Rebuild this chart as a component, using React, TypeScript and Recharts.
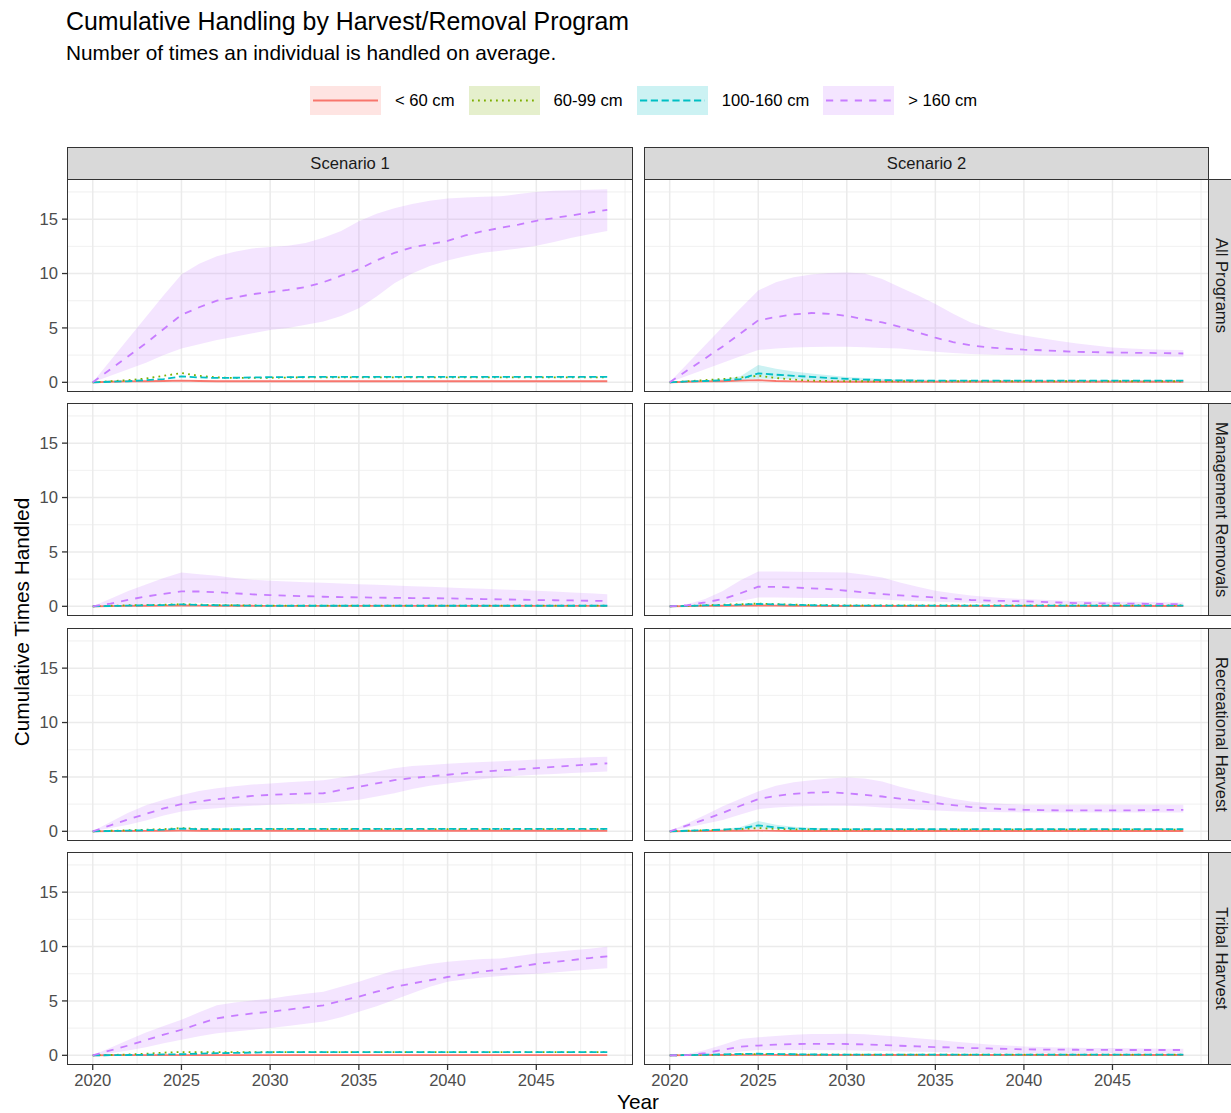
import React from "react";
import { ComposedChart, Line, Area, XAxis, YAxis, CartesianGrid } from "recharts";

const years = [2020, 2021, 2022, 2023, 2024, 2025, 2026, 2027, 2028, 2029, 2030, 2031, 2032, 2033, 2034, 2035, 2036, 2037, 2038, 2039, 2040, 2041, 2042, 2043, 2044, 2045, 2046, 2047, 2048, 2049];
const xTicks = [2020, 2025, 2030, 2035, 2040, 2045];
const xMinor = [2022.5, 2027.5, 2032.5, 2037.5, 2042.5, 2047.5, 2050];
const yTicks = [0, 5, 10, 15];
const yMinor = [2.5, 7.5, 12.5, 17.5];
const scenarios = ["Scenario 1", "Scenario 2"];
const programs = ["All Programs", "Management Removals", "Recreational Harvest", "Tribal Harvest"];
const sizeClasses = ["< 60 cm", "60-99 cm", "100-160 cm", "> 160 cm"];

// Scenario 1 — All Programs
const s1AllLt60 = [0, 0.05, 0.08, 0.1, 0.12, 0.15, 0.12, 0.1, 0.1, 0.1, 0.1, 0.1, 0.1, 0.1, 0.1, 0.1, 0.1, 0.1, 0.1, 0.1, 0.1, 0.1, 0.1, 0.1, 0.1, 0.1, 0.1, 0.1, 0.1, 0.1];
const s1All6099 = [0, 0.1, 0.2, 0.35, 0.6, 0.85, 0.6, 0.45, 0.4, 0.4, 0.42, 0.44, 0.45, 0.45, 0.46, 0.46, 0.46, 0.46, 0.46, 0.46, 0.46, 0.46, 0.46, 0.46, 0.46, 0.46, 0.46, 0.46, 0.46, 0.46];
const s1All100160 = [0, 0.05, 0.1, 0.2, 0.3, 0.55, 0.45, 0.4, 0.42, 0.45, 0.47, 0.48, 0.49, 0.5, 0.5, 0.5, 0.5, 0.5, 0.5, 0.5, 0.5, 0.5, 0.5, 0.5, 0.5, 0.5, 0.5, 0.5, 0.5, 0.5];
const s1AllGt160 = [0, 1.2, 2.4, 3.6, 4.9, 6.2, 6.9, 7.5, 7.8, 8.1, 8.3, 8.5, 8.75, 9.2, 9.8, 10.4, 11.2, 11.9, 12.4, 12.7, 13.0, 13.5, 13.9, 14.2, 14.5, 14.85, 15.1, 15.35, 15.6, 15.85];
const s1AllGt160Lo = [0, 0.6, 1.2, 1.8, 2.5, 3.1, 3.5, 3.9, 4.2, 4.5, 4.8, 5.0, 5.3, 5.6, 6.1, 6.8, 7.9, 9.1, 10.0, 10.7, 11.2, 11.6, 11.9, 12.1, 12.3, 12.55, 12.9, 13.3, 13.6, 13.9];
const s1AllGt160Hi = [0, 2.0, 4.0, 6.0, 8.0, 9.9, 10.9, 11.6, 12.0, 12.3, 12.45, 12.55, 12.8, 13.3, 13.9, 14.8, 15.5, 16.0, 16.4, 16.7, 16.9, 17.0, 17.05, 17.1, 17.3, 17.5, 17.6, 17.65, 17.7, 17.75];

// Scenario 2 — All Programs
const s2AllLt60 = [0, 0.05, 0.08, 0.1, 0.15, 0.2, 0.12, 0.08, 0.06, 0.05, 0.05, 0.05, 0.05, 0.05, 0.05, 0.05, 0.05, 0.05, 0.05, 0.05, 0.05, 0.05, 0.05, 0.05, 0.05, 0.05, 0.05, 0.05, 0.05, 0.05];
const s2All6099 = [0, 0.1, 0.2, 0.3, 0.45, 0.6, 0.4, 0.25, 0.15, 0.12, 0.1, 0.1, 0.1, 0.1, 0.1, 0.1, 0.1, 0.1, 0.1, 0.1, 0.1, 0.1, 0.1, 0.1, 0.1, 0.1, 0.1, 0.1, 0.1, 0.1];
const s2All100160 = [0, 0.08, 0.12, 0.18, 0.3, 0.82, 0.7, 0.6, 0.5, 0.4, 0.32, 0.25, 0.2, 0.18, 0.16, 0.15, 0.15, 0.15, 0.15, 0.15, 0.15, 0.15, 0.15, 0.15, 0.15, 0.15, 0.15, 0.15, 0.15, 0.15];
const s2All100160Lo = [0, 0.04, 0.06, 0.1, 0.15, 0.35, 0.3, 0.25, 0.2, 0.16, 0.13, 0.11, 0.1, 0.09, 0.08, 0.08, 0.08, 0.08, 0.08, 0.08, 0.08, 0.08, 0.08, 0.08, 0.08, 0.08, 0.08, 0.08, 0.08, 0.08];
const s2All100160Hi = [0, 0.12, 0.2, 0.3, 0.55, 1.6, 1.25, 1.0, 0.8, 0.65, 0.5, 0.4, 0.32, 0.28, 0.25, 0.22, 0.22, 0.22, 0.22, 0.22, 0.22, 0.22, 0.22, 0.22, 0.22, 0.22, 0.22, 0.22, 0.22, 0.22];
const s2AllGt160 = [0, 1.1, 2.2, 3.3, 4.5, 5.7, 6.0, 6.25, 6.37, 6.3, 6.1, 5.8, 5.5, 5.1, 4.6, 4.1, 3.7, 3.4, 3.2, 3.1, 3.0, 2.95, 2.87, 2.8, 2.77, 2.74, 2.72, 2.7, 2.68, 2.65];
const s2AllGt160Lo = [0, 0.6, 1.2, 1.8, 2.4, 2.96, 3.1, 3.2, 3.25, 3.26, 3.26, 3.22, 3.15, 3.1, 2.95, 2.8, 2.7, 2.6, 2.55, 2.5, 2.5, 2.47, 2.45, 2.43, 2.42, 2.4, 2.38, 2.37, 2.36, 2.35];
const s2AllGt160Hi = [0, 1.7, 3.4, 5.1, 6.8, 8.45, 9.2, 9.66, 9.9, 10.05, 10.1, 10.0, 9.5, 8.75, 8.0, 7.2, 6.3, 5.5, 5.0, 4.6, 4.3, 4.05, 3.8, 3.57, 3.38, 3.2, 3.1, 3.05, 3.0, 2.96];

// Scenario 1 — Management Removals
const s1MgmtLt60 = [0, 0.02, 0.04, 0.05, 0.06, 0.08, 0.06, 0.05, 0.05, 0.05, 0.04, 0.04, 0.04, 0.04, 0.04, 0.04, 0.04, 0.04, 0.04, 0.04, 0.04, 0.04, 0.04, 0.04, 0.04, 0.04, 0.04, 0.04, 0.04, 0.04];
const s1Mgmt6099 = [0, 0.05, 0.1, 0.12, 0.15, 0.2, 0.15, 0.12, 0.1, 0.08, 0.06, 0.06, 0.06, 0.06, 0.06, 0.06, 0.06, 0.06, 0.06, 0.06, 0.06, 0.06, 0.06, 0.06, 0.06, 0.06, 0.06, 0.06, 0.06, 0.06];
const s1Mgmt100160 = [0, 0.03, 0.06, 0.1, 0.12, 0.18, 0.12, 0.1, 0.08, 0.06, 0.05, 0.05, 0.05, 0.05, 0.05, 0.05, 0.05, 0.05, 0.05, 0.05, 0.05, 0.05, 0.05, 0.05, 0.05, 0.05, 0.05, 0.05, 0.05, 0.05];
const s1MgmtGt160 = [0, 0.25, 0.6, 0.9, 1.15, 1.37, 1.36, 1.3, 1.2, 1.1, 1.03, 0.98, 0.93, 0.88, 0.85, 0.82, 0.8, 0.78, 0.76, 0.75, 0.73, 0.7, 0.67, 0.64, 0.61, 0.58, 0.56, 0.54, 0.51, 0.49];
const s1MgmtGt160Lo = [0, 0.02, 0.1, 0.2, 0.28, 0.36, 0.32, 0.28, 0.25, 0.22, 0.2, 0.18, 0.17, 0.16, 0.15, 0.14, 0.13, 0.12, 0.12, 0.11, 0.1, 0.1, 0.1, 0.1, 0.1, 0.1, 0.1, 0.1, 0.1, 0.1];
const s1MgmtGt160Hi = [0, 0.7, 1.4, 2.0, 2.6, 3.1, 2.95, 2.8, 2.6, 2.45, 2.34, 2.28, 2.22, 2.16, 2.1, 2.04, 1.98, 1.92, 1.85, 1.79, 1.73, 1.67, 1.61, 1.55, 1.49, 1.43, 1.36, 1.28, 1.2, 1.12];

// Scenario 2 — Management Removals
const s2MgmtLt60 = [0, 0.02, 0.04, 0.05, 0.06, 0.08, 0.06, 0.05, 0.04, 0.03, 0.03, 0.03, 0.03, 0.03, 0.03, 0.03, 0.03, 0.03, 0.03, 0.03, 0.03, 0.03, 0.03, 0.03, 0.03, 0.03, 0.03, 0.03, 0.03, 0.03];
const s2Mgmt6099 = [0, 0.05, 0.1, 0.15, 0.2, 0.25, 0.2, 0.15, 0.12, 0.1, 0.08, 0.08, 0.08, 0.08, 0.08, 0.08, 0.08, 0.08, 0.08, 0.08, 0.08, 0.08, 0.08, 0.08, 0.08, 0.08, 0.08, 0.08, 0.08, 0.08];
const s2Mgmt100160 = [0, 0.04, 0.08, 0.1, 0.15, 0.22, 0.18, 0.14, 0.1, 0.08, 0.06, 0.06, 0.06, 0.06, 0.06, 0.06, 0.06, 0.06, 0.06, 0.06, 0.06, 0.06, 0.06, 0.06, 0.06, 0.06, 0.06, 0.06, 0.06, 0.06];
const s2MgmtGt160 = [0, 0.1, 0.36, 0.67, 1.2, 1.8, 1.78, 1.73, 1.65, 1.58, 1.43, 1.28, 1.12, 1.0, 0.9, 0.82, 0.7, 0.58, 0.52, 0.49, 0.46, 0.4, 0.35, 0.3, 0.28, 0.27, 0.25, 0.23, 0.21, 0.2];
const s2MgmtGt160Lo = [0, 0.02, 0.1, 0.25, 0.5, 0.82, 0.8, 0.78, 0.77, 0.76, 0.76, 0.7, 0.62, 0.54, 0.48, 0.43, 0.38, 0.32, 0.27, 0.23, 0.2, 0.19, 0.18, 0.17, 0.16, 0.16, 0.15, 0.15, 0.15, 0.15];
const s2MgmtGt160Hi = [0, 0.2, 0.67, 1.4, 2.4, 3.2, 3.2, 3.18, 3.16, 3.13, 3.1, 2.9, 2.64, 2.2, 1.8, 1.43, 1.2, 1.0, 0.85, 0.75, 0.67, 0.6, 0.54, 0.49, 0.46, 0.43, 0.41, 0.39, 0.37, 0.36];

// Scenario 1 — Recreational Harvest
const s1RecLt60 = [0, 0.02, 0.03, 0.04, 0.05, 0.06, 0.05, 0.05, 0.05, 0.05, 0.05, 0.05, 0.05, 0.05, 0.05, 0.05, 0.05, 0.05, 0.05, 0.05, 0.05, 0.05, 0.05, 0.05, 0.05, 0.05, 0.05, 0.05, 0.05, 0.05];
const s1Rec6099 = [0, 0.05, 0.1, 0.15, 0.2, 0.3, 0.22, 0.2, 0.2, 0.2, 0.2, 0.2, 0.2, 0.2, 0.2, 0.2, 0.2, 0.2, 0.2, 0.2, 0.2, 0.2, 0.2, 0.2, 0.2, 0.2, 0.2, 0.2, 0.2, 0.2];
const s1Rec100160 = [0, 0.03, 0.06, 0.1, 0.15, 0.25, 0.2, 0.2, 0.2, 0.22, 0.23, 0.23, 0.23, 0.23, 0.23, 0.23, 0.23, 0.23, 0.23, 0.23, 0.23, 0.23, 0.23, 0.23, 0.23, 0.23, 0.23, 0.23, 0.23, 0.23];
const s1RecGt160 = [0, 0.55, 1.1, 1.6, 2.1, 2.5, 2.75, 2.96, 3.1, 3.25, 3.35, 3.42, 3.47, 3.5, 3.8, 4.1, 4.4, 4.7, 4.9, 5.05, 5.2, 5.35, 5.48, 5.6, 5.7, 5.8, 5.92, 6.03, 6.14, 6.25];
const s1RecGt160Lo = [0, 0.3, 0.6, 1.0, 1.45, 1.83, 2.0, 2.13, 2.25, 2.35, 2.44, 2.5, 2.55, 2.6, 2.75, 2.9, 3.2, 3.5, 3.9, 4.2, 4.4, 4.6, 4.8, 4.97, 5.1, 5.2, 5.28, 5.36, 5.44, 5.5];
const s1RecGt160Hi = [0, 0.85, 1.7, 2.4, 2.9, 3.35, 3.7, 3.96, 4.15, 4.3, 4.4, 4.5, 4.6, 4.7, 4.95, 5.2, 5.5, 5.8, 6.0, 6.1, 6.2, 6.3, 6.38, 6.45, 6.52, 6.6, 6.67, 6.73, 6.8, 6.86];

// Scenario 2 — Recreational Harvest
const s2RecLt60 = [0, 0.02, 0.03, 0.04, 0.05, 0.06, 0.04, 0.03, 0.03, 0.03, 0.03, 0.03, 0.03, 0.03, 0.03, 0.03, 0.03, 0.03, 0.03, 0.03, 0.03, 0.03, 0.03, 0.03, 0.03, 0.03, 0.03, 0.03, 0.03, 0.03];
const s2Rec6099 = [0, 0.05, 0.1, 0.15, 0.2, 0.3, 0.22, 0.18, 0.17, 0.16, 0.15, 0.15, 0.15, 0.15, 0.15, 0.15, 0.15, 0.15, 0.15, 0.15, 0.15, 0.15, 0.15, 0.15, 0.15, 0.15, 0.15, 0.15, 0.15, 0.15];
const s2Rec100160 = [0, 0.05, 0.1, 0.15, 0.25, 0.55, 0.35, 0.25, 0.22, 0.2, 0.2, 0.2, 0.2, 0.2, 0.2, 0.2, 0.2, 0.2, 0.2, 0.2, 0.2, 0.2, 0.2, 0.2, 0.2, 0.2, 0.2, 0.2, 0.2, 0.2];
const s2Rec100160Lo = [0, 0.02, 0.05, 0.08, 0.12, 0.25, 0.18, 0.14, 0.13, 0.12, 0.12, 0.12, 0.12, 0.12, 0.12, 0.12, 0.12, 0.12, 0.12, 0.12, 0.12, 0.12, 0.12, 0.12, 0.12, 0.12, 0.12, 0.12, 0.12, 0.12];
const s2Rec100160Hi = [0, 0.1, 0.15, 0.22, 0.4, 0.95, 0.6, 0.42, 0.32, 0.28, 0.27, 0.27, 0.27, 0.27, 0.27, 0.27, 0.27, 0.27, 0.27, 0.27, 0.27, 0.27, 0.27, 0.27, 0.27, 0.27, 0.27, 0.27, 0.27, 0.27];
const s2RecGt160 = [0, 0.55, 1.1, 1.7, 2.35, 2.96, 3.25, 3.45, 3.55, 3.6, 3.5, 3.35, 3.2, 3.0, 2.8, 2.6, 2.4, 2.23, 2.1, 2.03, 1.98, 1.95, 1.93, 1.92, 1.92, 1.92, 1.93, 1.95, 1.97, 1.98];
const s2RecGt160Lo = [0, 0.35, 0.7, 1.05, 1.55, 2.04, 2.2, 2.29, 2.32, 2.34, 2.35, 2.3, 2.2, 2.1, 2.0, 1.92, 1.85, 1.8, 1.77, 1.75, 1.74, 1.74, 1.74, 1.74, 1.74, 1.74, 1.74, 1.74, 1.74, 1.74];
const s2RecGt160Hi = [0, 0.75, 1.5, 2.3, 3.0, 3.66, 4.2, 4.5, 4.7, 4.85, 4.94, 4.85, 4.57, 4.1, 3.7, 3.35, 3.0, 2.74, 2.6, 2.5, 2.44, 2.44, 2.44, 2.44, 2.44, 2.44, 2.44, 2.44, 2.44, 2.44];

// Scenario 1 — Tribal Harvest
const s1TribLt60 = [0, 0.01, 0.01, 0.02, 0.02, 0.02, 0.02, 0.02, 0.02, 0.02, 0.02, 0.02, 0.02, 0.02, 0.02, 0.02, 0.02, 0.02, 0.02, 0.02, 0.02, 0.02, 0.02, 0.02, 0.02, 0.02, 0.02, 0.02, 0.02, 0.02];
const s1Trib6099 = [0, 0.03, 0.08, 0.15, 0.25, 0.3, 0.3, 0.3, 0.3, 0.3, 0.3, 0.3, 0.3, 0.3, 0.3, 0.3, 0.3, 0.3, 0.3, 0.3, 0.3, 0.3, 0.3, 0.3, 0.3, 0.3, 0.3, 0.3, 0.3, 0.3];
const s1Trib100160 = [0, 0.01, 0.03, 0.05, 0.08, 0.1, 0.15, 0.2, 0.22, 0.25, 0.28, 0.3, 0.3, 0.3, 0.3, 0.3, 0.3, 0.3, 0.3, 0.3, 0.3, 0.3, 0.3, 0.3, 0.3, 0.3, 0.3, 0.3, 0.3, 0.3];
const s1TribGt160 = [0, 0.45, 0.9, 1.4, 1.9, 2.35, 2.9, 3.4, 3.65, 3.85, 4.0, 4.2, 4.4, 4.6, 5.0, 5.4, 5.85, 6.3, 6.6, 6.9, 7.2, 7.45, 7.7, 7.9, 8.15, 8.4, 8.58, 8.76, 8.94, 9.1];
const s1TribGt160Lo = [0, 0.2, 0.45, 0.75, 1.1, 1.43, 1.75, 2.04, 2.2, 2.35, 2.5, 2.7, 2.9, 3.1, 3.5, 4.0, 4.5, 5.1, 5.7, 6.3, 6.77, 7.0, 7.15, 7.3, 7.4, 7.5, 7.62, 7.75, 7.88, 8.0];
const s1TribGt160Hi = [0, 0.7, 1.4, 2.1, 2.7, 3.26, 3.95, 4.6, 4.85, 5.05, 5.2, 5.45, 5.65, 5.85, 6.3, 6.77, 7.3, 7.8, 8.1, 8.4, 8.6, 8.75, 8.85, 8.9, 9.13, 9.36, 9.5, 9.65, 9.8, 9.97];

// Scenario 2 — Tribal Harvest
const s2TribLt60 = [0, 0.01, 0.02, 0.03, 0.04, 0.05, 0.04, 0.03, 0.03, 0.03, 0.03, 0.03, 0.03, 0.03, 0.03, 0.03, 0.03, 0.03, 0.03, 0.03, 0.03, 0.03, 0.03, 0.03, 0.03, 0.03, 0.03, 0.03, 0.03, 0.03];
const s2Trib6099 = [0, 0.02, 0.04, 0.06, 0.1, 0.12, 0.1, 0.08, 0.06, 0.06, 0.06, 0.06, 0.06, 0.06, 0.06, 0.06, 0.06, 0.06, 0.06, 0.06, 0.06, 0.06, 0.06, 0.06, 0.06, 0.06, 0.06, 0.06, 0.06, 0.06];
const s2Trib100160 = [0, 0.02, 0.05, 0.08, 0.12, 0.15, 0.12, 0.1, 0.08, 0.07, 0.07, 0.07, 0.07, 0.07, 0.07, 0.07, 0.07, 0.07, 0.07, 0.07, 0.07, 0.07, 0.07, 0.07, 0.07, 0.07, 0.07, 0.07, 0.07, 0.07];
const s2TribGt160 = [0, 0.02, 0.2, 0.5, 0.8, 0.9, 0.98, 1.04, 1.05, 1.05, 1.04, 1.0, 0.95, 0.88, 0.82, 0.76, 0.72, 0.67, 0.63, 0.59, 0.55, 0.53, 0.52, 0.51, 0.5, 0.49, 0.49, 0.49, 0.49, 0.49];
const s2TribGt160Lo = [0, 0, 0.05, 0.15, 0.35, 0.5, 0.5, 0.49, 0.48, 0.47, 0.46, 0.43, 0.39, 0.35, 0.32, 0.3, 0.27, 0.24, 0.22, 0.21, 0.2, 0.2, 0.2, 0.2, 0.2, 0.2, 0.2, 0.2, 0.2, 0.2];
const s2TribGt160Hi = [0, 0.1, 0.5, 0.97, 1.5, 1.65, 1.78, 1.9, 1.95, 1.97, 1.98, 1.93, 1.83, 1.7, 1.56, 1.43, 1.28, 1.13, 1.0, 0.9, 0.82, 0.77, 0.73, 0.7, 0.68, 0.67, 0.65, 0.63, 0.61, 0.6];

const COLORS = ["#F8766D", "#7CAE00", "#00BFC4", "#C77CFF"];
const DASHES = ["0", "1.8 4.2", "7.2 3.6", "7.2 7.2"];
const FONT = "'Liberation Sans', Arial, Helvetica, sans-serif";

// layout (px, page coordinates)
const COL_X = [67, 644];
const COL_W = [566, 565];
const ROW_Y = [179, 403, 628, 852];
const ROW_H = 213;
const Y_AXIS_W = 45;
const X_AXIS_H = 32;
const X_DOMAIN = [2018.55, 2050.45];
const Y_DOMAIN = [-0.89, 18.69];

type PanelDef = {
  row: number;
  col: number;
  lt60: number[];
  s6099: number[];
  s100160: number[];
  gt160: number[];
  gt160Lo: number[];
  gt160Hi: number[];
  midLo?: number[];
  midHi?: number[];
};

const panelDefs: PanelDef[] = [
  { row: 0, col: 0, lt60: s1AllLt60, s6099: s1All6099, s100160: s1All100160, gt160: s1AllGt160, gt160Lo: s1AllGt160Lo, gt160Hi: s1AllGt160Hi },
  { row: 0, col: 1, lt60: s2AllLt60, s6099: s2All6099, s100160: s2All100160, gt160: s2AllGt160, gt160Lo: s2AllGt160Lo, gt160Hi: s2AllGt160Hi, midLo: s2All100160Lo, midHi: s2All100160Hi },
  { row: 1, col: 0, lt60: s1MgmtLt60, s6099: s1Mgmt6099, s100160: s1Mgmt100160, gt160: s1MgmtGt160, gt160Lo: s1MgmtGt160Lo, gt160Hi: s1MgmtGt160Hi },
  { row: 1, col: 1, lt60: s2MgmtLt60, s6099: s2Mgmt6099, s100160: s2Mgmt100160, gt160: s2MgmtGt160, gt160Lo: s2MgmtGt160Lo, gt160Hi: s2MgmtGt160Hi },
  { row: 2, col: 0, lt60: s1RecLt60, s6099: s1Rec6099, s100160: s1Rec100160, gt160: s1RecGt160, gt160Lo: s1RecGt160Lo, gt160Hi: s1RecGt160Hi },
  { row: 2, col: 1, lt60: s2RecLt60, s6099: s2Rec6099, s100160: s2Rec100160, gt160: s2RecGt160, gt160Lo: s2RecGt160Lo, gt160Hi: s2RecGt160Hi, midLo: s2Rec100160Lo, midHi: s2Rec100160Hi },
  { row: 3, col: 0, lt60: s1TribLt60, s6099: s1Trib6099, s100160: s1Trib100160, gt160: s1TribGt160, gt160Lo: s1TribGt160Lo, gt160Hi: s1TribGt160Hi },
  { row: 3, col: 1, lt60: s2TribLt60, s6099: s2Trib6099, s100160: s2Trib100160, gt160: s2TribGt160, gt160Lo: s2TribGt160Lo, gt160Hi: s2TribGt160Hi },
];

const tickStyle = { fill: "#4d4d4d", fontSize: 16.6, fontFamily: FONT };

function Panel({ p }: { p: PanelDef }) {
  const data = years.map((year, i) => ({
    year,
    lt60: p.lt60[i],
    s6099: p.s6099[i],
    s100160: p.s100160[i],
    gt160: p.gt160[i],
    gt160Band: [p.gt160Lo[i], p.gt160Hi[i]],
    midBand: p.midLo && p.midHi ? [p.midLo[i], p.midHi[i]] : null,
  }));
  const showY = p.col === 0;
  const showX = p.row === 3;
  const left = COL_X[p.col] - (showY ? Y_AXIS_W : 0);
  const width = COL_W[p.col] + (showY ? Y_AXIS_W : 0);
  const height = ROW_H + (showX ? X_AXIS_H : 0);
  const keys = ["lt60", "s6099", "s100160", "gt160"];

  return (
    <div style={{ position: "absolute", left, top: ROW_Y[p.row], width, height }}>
      <ComposedChart
        width={width}
        height={height}
        data={data}
        margin={{ top: 0, right: 0, bottom: 0, left: 0 }}
        style={{ overflow: "visible" }}
      >
        <CartesianGrid verticalValues={xMinor} horizontalValues={yMinor} stroke="#ececec" strokeWidth={0.8} />
        <CartesianGrid verticalValues={xTicks} horizontalValues={yTicks} stroke="#ebebeb" strokeWidth={1.5} />
        <XAxis
          dataKey="year"
          type="number"
          domain={X_DOMAIN}
          ticks={xTicks}
          interval={0}
          allowDataOverflow
          hide={!showX}
          height={X_AXIS_H}
          axisLine={false}
          tickLine={{ stroke: "#333333", strokeWidth: 1.3 }}
          tickSize={5}
          tickMargin={4}
          tick={tickStyle}
        />
        <YAxis
          type="number"
          domain={Y_DOMAIN}
          ticks={yTicks}
          interval={0}
          allowDataOverflow
          hide={!showY}
          width={Y_AXIS_W}
          axisLine={false}
          tickLine={{ stroke: "#333333", strokeWidth: 1.3 }}
          tickSize={5}
          tickMargin={4}
          tick={tickStyle}
        />
        <Area
          dataKey="gt160Band"
          type="linear"
          stroke="none"
          fill={COLORS[3]}
          fillOpacity={0.2}
          isAnimationActive={false}
          activeDot={false}
        />
        {p.midLo && (
          <Area
            dataKey="midBand"
            type="linear"
            stroke="none"
            fill={COLORS[2]}
            fillOpacity={0.2}
            isAnimationActive={false}
            activeDot={false}
          />
        )}
        {keys.map((k, i) => (
          <Line
            key={k}
            dataKey={k}
            type="linear"
            stroke={COLORS[i]}
            strokeWidth={1.8}
            strokeDasharray={DASHES[i]}
            dot={false}
            activeDot={false}
            isAnimationActive={false}
          />
        ))}
      </ComposedChart>
      <div
        style={{
          position: "absolute",
          left: showY ? Y_AXIS_W : 0,
          top: 0,
          width: COL_W[p.col],
          height: ROW_H,
          border: "1.3px solid #333333",
          boxSizing: "border-box",
          pointerEvents: "none",
        }}
      />
    </div>
  );
}

const stripStyle: React.CSSProperties = {
  position: "absolute",
  background: "#d9d9d9",
  border: "1.3px solid #333333",
  boxSizing: "border-box",
  color: "#1a1a1a",
  fontSize: 16.6,
  display: "flex",
  alignItems: "center",
  justifyContent: "center",
  whiteSpace: "nowrap",
};

function Legend() {
  return (
    <div style={{ position: "absolute", left: 310, top: 86, height: 29, display: "flex", alignItems: "center" }}>
      {sizeClasses.map((label, i) => (
        <div key={label} style={{ display: "flex", alignItems: "center", marginRight: 14 }}>
          <svg width={71} height={29} style={{ display: "block" }}>
            <rect x={0} y={0} width={71} height={29} fill={COLORS[i]} fillOpacity={0.2} />
            <line x1={3} x2={68} y1={14.5} y2={14.5} stroke={COLORS[i]} strokeWidth={1.8} strokeDasharray={DASHES[i]} />
          </svg>
          <span style={{ marginLeft: 14, fontSize: 16.6, color: "#000" }}>{label}</span>
        </div>
      ))}
    </div>
  );
}

export default function App() {
  return (
    <div
      style={{
        position: "absolute",
        left: 0,
        top: 0,
        width: 1231,
        height: 1113,
        overflow: "hidden",
        background: "#ffffff",
        fontFamily: FONT,
      }}
    >
      <div style={{ position: "absolute", left: 66, top: 9, fontSize: 24.9, lineHeight: 1, color: "#000", whiteSpace: "nowrap" }}>
        Cumulative Handling by Harvest/Removal Program
      </div>
      <div style={{ position: "absolute", left: 66, top: 42.5, fontSize: 20.8, lineHeight: 1, color: "#000", whiteSpace: "nowrap" }}>
        Number of times an individual is handled on average.
      </div>
      <Legend />

      {scenarios.map((s, c) => (
        <div key={s} style={{ ...stripStyle, left: COL_X[c], top: 147, width: COL_W[c], height: 33 }}>
          {s}
        </div>
      ))}
      {programs.map((name, r) => (
        <div
          key={name}
          style={{
            ...stripStyle,
            left: 1208,
            top: ROW_Y[r],
            width: 32,
            height: ROW_H,
            borderRight: "none",
            writingMode: "vertical-rl",
            paddingLeft: 0,
            paddingRight: 8,
            justifyContent: "center",
          }}
        >
          <span style={{ lineHeight: 1 }}>{name}</span>
        </div>
      ))}

      {panelDefs.map((p) => (
        <Panel key={`${p.row}-${p.col}`} p={p} />
      ))}

      <div
        style={{
          position: "absolute",
          left: 22,
          top: 622,
          fontSize: 20.8,
          lineHeight: 1,
          color: "#000",
          whiteSpace: "nowrap",
          transform: "translate(-50%, -50%) rotate(-90deg)",
        }}
      >
        Cumulative Times Handled
      </div>
      <div
        style={{
          position: "absolute",
          left: 638,
          top: 1092,
          fontSize: 20.8,
          lineHeight: 1,
          color: "#000",
          whiteSpace: "nowrap",
          transform: "translateX(-50%)",
        }}
      >
        Year
      </div>
    </div>
  );
}
